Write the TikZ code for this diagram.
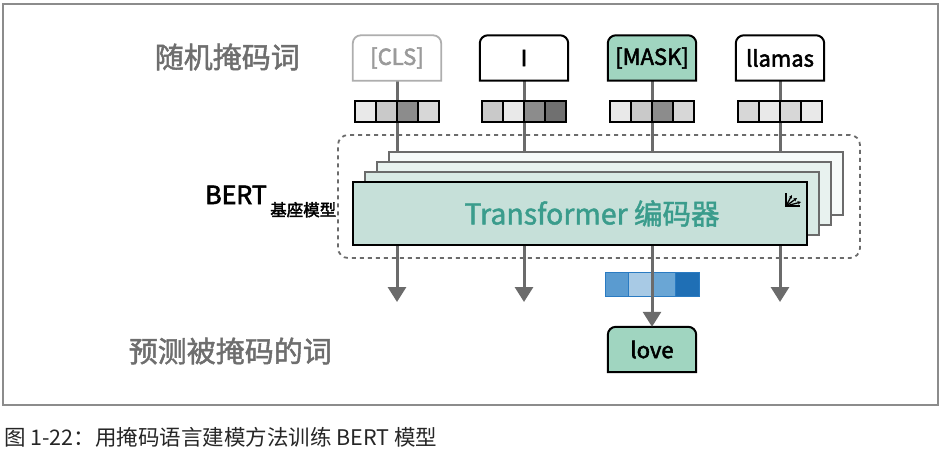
\documentclass[tikz,border=0pt]{standalone}
\usepackage{fontspec}
\setmainfont{Noto Sans CJK SC}
\newfontfamily\medfont[FakeBold=1.6]{Noto Sans CJK SC}
\newfontfamily\semifont[FakeBold=2.4]{Noto Sans CJK SC}
\usetikzlibrary{arrows.meta}
\definecolor{labelgray}{HTML}{6E6E6E}
\definecolor{linegray}{HTML}{6B6B6B}
\definecolor{tokgreen}{HTML}{A0D5C0}
\definecolor{layerfront}{HTML}{C6E0D9}
\definecolor{layerb1}{HTML}{D9EAE5}
\definecolor{layerb2}{HTML}{E8F2EF}
\definecolor{layerb3}{HTML}{F6FAF9}
\definecolor{teal}{HTML}{3A9C8C}
\definecolor{clsgray}{HTML}{9A9A9A}
\definecolor{gA}{HTML}{E9E9E9}
\definecolor{gB}{HTML}{C9C9C9}
\definecolor{gC}{HTML}{8C8C8C}
\definecolor{gD}{HTML}{D7D7D7}
\definecolor{gE}{HTML}{707070}
\definecolor{bA}{HTML}{5A9BD0}
\definecolor{bB}{HTML}{A8CAE5}
\definecolor{bC}{HTML}{6AA6D5}
\definecolor{bD}{HTML}{1F6FB5}
\definecolor{bBorder}{HTML}{2A7BC2}
\tikzset{
  tok/.style={minimum width=88pt,minimum height=45pt,inner sep=0pt,font=\semifont\fontsize{22}{22}\selectfont},
  tokline/.style={line width=2pt,draw=black},
  cell/.style={draw=black,line width=1.8pt,minimum width=21pt,minimum height=21pt,inner sep=0pt},
  bcell/.style={draw=bBorder,line width=1pt,minimum width=23.5pt,minimum height=24pt,inner sep=0pt},
  conn/.style={line width=3pt,draw=linegray},
  arr/.style={conn,-{Triangle[width=18pt,length=15pt]}},
  layer/.style={draw=linegray,line width=1.5pt,minimum width=454pt,minimum height=63pt,inner sep=0pt},
  biglabel/.style={text=labelgray,font=\medfont\fontsize{29}{29}\selectfont,inner sep=0pt},
}
\newcommand{\topbox}[2]{%
  \draw[#2] (#1.south west) -- ([yshift=-8pt]#1.north west)
    arc[start angle=180,end angle=90,radius=8pt]
    -- ([xshift=-8pt]#1.north east)
    arc[start angle=90,end angle=0,radius=8pt]
    -- (#1.south east) -- cycle;}
\begin{document}
\begin{tikzpicture}[x=1pt,y=-1pt]
\useasboundingbox (0,0) rectangle (945,458);
% outer frame
\draw[line width=1.2pt,draw=gray!90] (3,4) rectangle (938,405);
% labels
\node[biglabel,anchor=east] (lblin) at (300,57) {随机掩码词};
\node[biglabel,anchor=east] (lblout) at (332,351) {预测被掩码的词};
% token nodes
\node[tok] (cls) at (397,58) {};
\node[tok] (ti) at (524,58) {};
\node[tok] (tmask) at (652,58) {};
\node[tok] (tll) at (780,58) {};
% dashed container
\node[draw=linegray,dash pattern=on 4pt off 4pt,line width=1.8pt,rounded corners=10pt,minimum width=522pt,minimum height=123pt,inner sep=0pt] (cont) at (599,196.5) {};
% connector ends
\coordinate (c1) at (397,152);
\coordinate (c2) at (524,152);
\coordinate (c3) at (652,152);
\coordinate (c4) at (780,152);
\draw[conn] (cls.south) -- (c1);
\draw[conn] (ti.south) -- (c2);
\draw[conn] (tmask.south) -- (c3);
\draw[conn] (tll.south) -- (c4);
% layer stack
\node[layer,fill=layerb3] (l3) at (616,183.5) {};
\node[layer,fill=layerb2] (l2) at (604,193.5) {};
\node[layer,fill=layerb1] (l1) at (592,203.5) {};
\node[layer,draw=black,line width=2pt,fill=layerfront] (enc) at (580,213.5) {};
\node[inner sep=0pt,text=teal,font=\medfont\fontsize{28.5}{28.5}\selectfont] (enctxt) at (592,213.5) {Transformer 编码器};
% token boxes
\topbox{cls}{line width=1.8pt,draw=clsgray!80,fill=white}
\topbox{ti}{tokline,fill=white}
\topbox{tmask}{tokline,fill=tokgreen}
\topbox{tll}{tokline,fill=white}
\node[tok,text=clsgray] (clst) at (cls) {[CLS]};
\node[tok] (tit) at (ti) {I};
\node[tok] (tmaskt) at (tmask) {[MASK]};
\node[tok] (tllt) at (tll) {llamas};
% embeddings
\foreach \cx/\a/\b/\c/\d/\nm in {397/gA/gB/gC/gD/ecls,524/gB/gA/gC/gE/ei,652/gA/gB/gC/gD/emask,780/gD/gA/gD/gA/ell}{
  \node[cell,fill=\a] (\nm1) at (\cx-31.5,111.5) {};
  \node[cell,fill=\b] (\nm2) at (\cx-10.5,111.5) {};
  \node[cell,fill=\c] (\nm3) at (\cx+10.5,111.5) {};
  \node[cell,fill=\d] (\nm4) at (\cx+31.5,111.5) {};
}
% icon
\coordinate (ic) at (786,206);
\draw[line width=1.4pt] (786,193) -- (ic) -- (800,206);
\draw[line width=1.3pt,-{Stealth[length=3.5pt,width=3.5pt]}] (ic) -- (797,198);
\draw[line width=1.3pt,-{Stealth[length=3.5pt,width=3.5pt]}] (ic) -- (801,202);
\draw[line width=1.3pt,-{Stealth[length=3.5pt,width=3.5pt]}] (ic) -- (792,195);
% BERT label
\node[anchor=base west,inner sep=0pt,font=\semifont\fontsize{25}{25}\selectfont] (bert) at (205,204) {BERT};
\node[anchor=base west,inner sep=0pt,font=\semifont\fontsize{16.5}{16.5}\selectfont,xshift=3pt,yshift=-12pt] (bertsub) at (bert.base east) {基座模型};
% blue embedding
\node[bcell,fill=bA] (o1) at (616.75,284) {};
\node[bcell,fill=bB] (o2) at (640.25,284) {};
\node[bcell,fill=bC] (o3) at (663.75,284) {};
\node[bcell,fill=bD] (o4) at (687.25,284) {};
% output token
\node[tok] (love) at (652,349.5) {};
\topbox{love}{tokline,fill=tokgreen}
\node[tok] (lovet) at (love) {love};
% output arrows
\coordinate (d1) at (397,302);
\coordinate (d2) at (524,302);
\coordinate (d4) at (780,302);
\draw[arr] (enc.south -| d1) -- (d1);
\draw[arr] (enc.south -| d2) -- (d2);
\draw[arr] (enc.south -| d4) -- (d4);
\draw[arr] (enc.south -| love) -- (love.north);
% caption
\node[anchor=west,inner sep=0pt,text=black!85,font=\fontsize{21.5}{21.5}\selectfont] (cap) at (4,437) {图 1-22：用掩码语言建模方法训练 BERT 模型};
\end{tikzpicture}
\end{document}
